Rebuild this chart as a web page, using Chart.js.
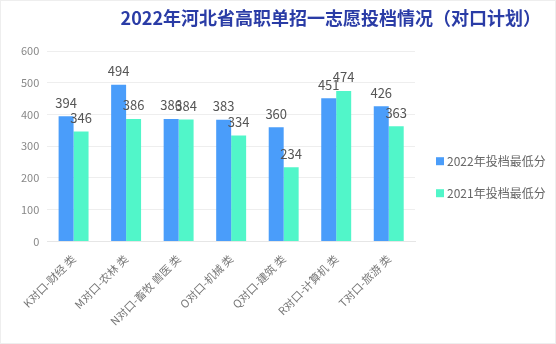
<!DOCTYPE html>
<html>
<head>
<meta charset="utf-8">
<script src="https://cdn.jsdelivr.net/npm/chart.js@4/dist/chart.umd.min.js"></script>
<style>
  html, body { margin: 0; padding: 0; background: #fff; }
  #wrap { position: relative; width: 556px; height: 344px; box-sizing: border-box; border: 1px solid #eee; }
  canvas { display: block; }
</style>
</head>
<body>
<div id="wrap"><canvas id="c" width="554" height="342"></canvas></div>
<script>
const categories = ["K对口-财经 类", "M对口-农林 类", "N对口-畜牧 兽医 类", "O对口-机械 类", "Q对口-建筑 类", "R对口-计算机 类", "T对口-旅游 类"];
const score2022 = [394, 494, 386, 383, 360, 451, 426];
const score2021 = [346, 386, 384, 334, 234, 474, 363];
const seriesNames = ["2022年投档最低分", "2021年投档最低分"];
const yTicks = [0, 100, 200, 300, 400, 500, 600];
const titleText = '2022年河北省高职单招一志愿投档情况（对口计划）';

const FONT = '"Noto Sans CJK SC", "Noto Sans", sans-serif';
const COLORS = ['rgba(64,152,250,0.95)', 'rgba(72,245,198,0.95)'];

// title, right-aligned across the full width of the canvas
const headTitle = {
  id: 'headTitle',
  afterDraw(chart) {
    const ctx = chart.ctx;
    ctx.save();
    ctx.font = 'bold 18px ' + FONT;
    ctx.fillStyle = '#2a3ca6';
    ctx.textAlign = 'right';
    ctx.textBaseline = 'middle';
    ctx.fillText(titleText, chart.width - 14, 17);
    ctx.restore();
  }
};

// draws each bar's value just above its top
const valueLabels = {
  id: 'valueLabels',
  afterDatasetsDraw(chart) {
    const ctx = chart.ctx;
    ctx.save();
    ctx.font = '13px ' + FONT;
    ctx.fillStyle = '#555';
    ctx.textAlign = 'center';
    ctx.textBaseline = 'bottom';
    chart.data.datasets.forEach((ds, i) => {
      const meta = chart.getDatasetMeta(i);
      meta.data.forEach((bar, j) => {
        ctx.fillText(String(ds.data[j]), bar.x, bar.y - 7);
      });
    });
    ctx.restore();
  }
};

// vertical legend in the space reserved right of the plot
const sideLegend = {
  id: 'sideLegend',
  afterDraw(chart) {
    const ctx = chart.ctx;
    const area = chart.chartArea;
    const x0 = area.right + 21;
    const yMid = (area.top + area.bottom) / 2 + 31;
    const gap = 32;
    ctx.save();
    ctx.font = '12px ' + FONT;
    ctx.textBaseline = 'middle';
    ctx.textAlign = 'left';
    chart.data.datasets.forEach((ds, i) => {
      const y = yMid - gap / 2 + i * gap;
      ctx.fillStyle = ds.backgroundColor;
      ctx.fillRect(x0, y - 4, 8, 8);
      ctx.fillStyle = '#666';
      ctx.fillText(ds.label, x0 + 11, y);
    });
    ctx.restore();
  }
};

new Chart(document.getElementById('c'), {
  type: 'bar',
  data: {
    labels: categories,
    datasets: [
      { label: seriesNames[0], data: score2022, backgroundColor: COLORS[0], categoryPercentage: 0.57, barPercentage: 1 },
      { label: seriesNames[1], data: score2021, backgroundColor: COLORS[1], categoryPercentage: 0.57, barPercentage: 1 }
    ]
  },
  options: {
    responsive: false,
    animation: false,
    layout: { padding: { left: 12, right: 140, top: 50, bottom: 12 } },
    plugins: {
      title: { display: false },
      legend: { display: false },
      tooltip: { enabled: false }
    },
    scales: {
      x: {
        grid: { display: false },
        border: { color: '#e6e6e6' },
        ticks: {
          color: '#777',
          font: { family: FONT, size: 11 },
          maxRotation: 45,
          minRotation: 45,
          autoSkip: false
        }
      },
      y: {
        min: 0,
        max: 600,
        afterBuildTicks(axis) { axis.ticks = yTicks.map(v => ({ value: v })); },
        grid: { color: '#eeeeee', drawTicks: false },
        border: { display: false },
        ticks: {
          color: '#888',
          font: { family: FONT, size: 11 },
          padding: 8
        }
      }
    }
  },
  plugins: [valueLabels, sideLegend, headTitle]
});
</script>
</body>
</html>
